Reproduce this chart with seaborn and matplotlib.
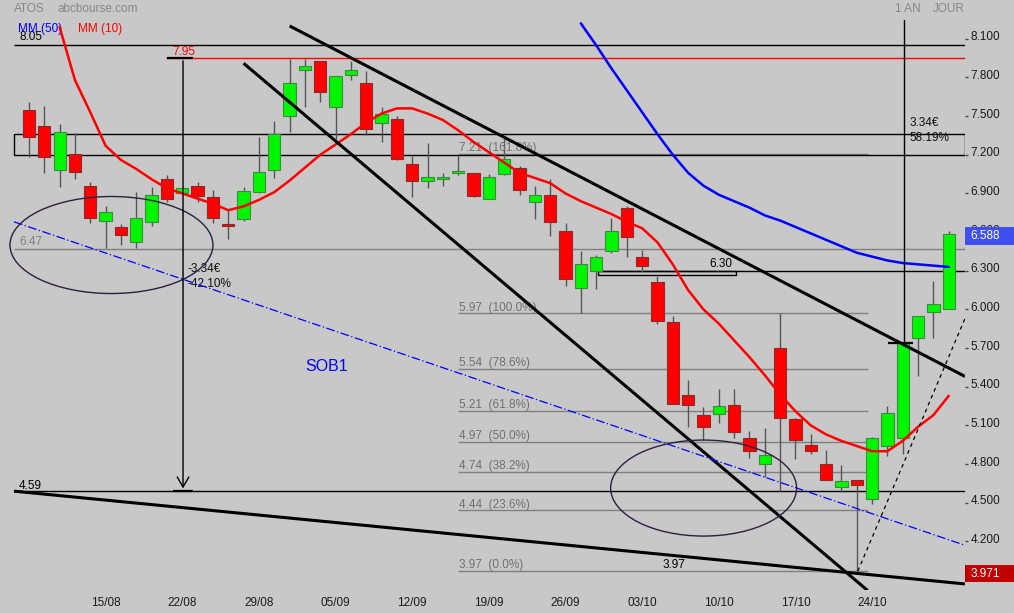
import numpy as np
import pandas as pd
import seaborn as sns
import matplotlib.pyplot as plt
import matplotlib.transforms as mtransforms
from matplotlib.patches import Ellipse, Rectangle

sns.set_theme(style='white', rc={'axes.facecolor': '#C8C8C8', 'figure.facecolor': '#C8C8C8'})
plt.rcParams['font.family'] = ['Liberation Sans', 'DejaVu Sans']

# daily candles, 08/08 -> 31/10 (index = trading day)
opens = [7.55, 7.42, 7.08, 7.21, 6.96, 6.69, 6.64, 6.52, 6.68, 7.01,
         6.90, 6.96, 6.87, 6.66, 6.70, 6.91, 7.08, 7.50, 7.86, 7.93,
         7.57, 7.82, 7.76, 7.45, 7.48, 7.13, 7.00, 7.01, 7.06, 7.06,
         6.86, 7.05, 7.10, 6.83, 6.89, 6.61, 6.17, 6.30, 6.45, 6.79,
         6.41, 6.21, 5.90, 5.34, 5.18, 5.19, 5.26, 5.00, 4.80, 5.70,
         5.15, 4.95, 4.80, 4.62, 4.68, 4.53, 4.94, 5.00, 5.78, 5.98, 6.00]
highs = [7.61, 7.58, 7.44, 7.37, 6.99, 6.80, 6.66, 6.91, 6.95, 7.04,
         6.94, 6.99, 6.93, 6.77, 6.95, 7.34, 7.46, 7.94, 7.94, 7.93,
         7.81, 7.93, 7.85, 7.57, 7.50, 7.19, 7.29, 7.06, 7.20, 7.06,
         7.05, 7.33, 7.11, 6.96, 7.01, 6.67, 6.45, 6.42, 6.71, 6.80,
         6.46, 6.26, 5.95, 5.45, 5.24, 5.38, 5.38, 5.06, 5.08, 5.97,
         5.16, 5.03, 4.91, 4.79, 4.68, 5.01, 5.25, 5.74, 5.95, 6.22, 6.61]
lows = [7.18, 7.06, 6.95, 7.01, 6.67, 6.48, 6.50, 6.48, 6.65, 6.83,
        6.90, 6.83, 6.67, 6.55, 6.69, 6.90, 7.02, 7.38, 7.57, 7.61,
        7.32, 7.78, 7.35, 7.30, 7.16, 6.87, 6.94, 6.96, 7.04, 6.87,
        6.86, 7.04, 6.89, 6.70, 6.57, 6.18, 5.97, 6.16, 6.44, 6.41,
        6.29, 5.89, 5.27, 5.09, 4.99, 5.12, 5.00, 4.85, 4.70, 4.59,
        4.84, 4.88, 4.68, 4.58, 3.971, 4.49, 4.86, 4.88, 5.48, 5.78, 6.00]
closes = [7.34, 7.18, 7.38, 7.07, 6.71, 6.76, 6.58, 6.71, 6.89, 6.86,
          6.94, 6.88, 6.71, 6.65, 6.92, 7.07, 7.36, 7.76, 7.89, 7.69,
          7.81, 7.86, 7.40, 7.52, 7.17, 7.00, 7.03, 7.03, 7.06, 6.88,
          7.03, 7.17, 6.93, 6.89, 6.68, 6.24, 6.35, 6.41, 6.61, 6.56,
          6.34, 5.91, 5.27, 5.26, 5.09, 5.25, 5.05, 4.90, 4.87, 5.16,
          4.99, 4.90, 4.68, 4.67, 4.64, 5.00, 5.20, 5.74, 5.95, 6.04, 6.588]

mm10 = [np.nan, np.nan, 8.19, 7.78, 7.53, 7.27, 7.16, 7.09, 7.01, 6.94,
        6.90, 6.86, 6.82, 6.77, 6.80, 6.85, 6.91, 7.00, 7.10, 7.20,
        7.28, 7.36, 7.45, 7.52, 7.56, 7.56, 7.52, 7.47, 7.39, 7.30,
        7.22, 7.14, 7.06, 7.02, 6.98, 6.90, 6.84, 6.79, 6.74, 6.68,
        6.63, 6.52, 6.35, 6.15, 6.00, 5.89, 5.76, 5.63, 5.49, 5.34,
        5.21, 5.10, 5.03, 4.98, 4.94, 4.90, 4.90, 4.98, 5.09, 5.18, 5.33]
mm50 = [np.nan] * 36 + [8.22, 8.05, 7.87, 7.70, 7.53, 7.36, 7.20, 7.06, 6.96, 6.89,
                        6.84, 6.79, 6.73, 6.69, 6.64, 6.59, 6.54, 6.49, 6.44, 6.41,
                        6.38, 6.36, 6.35, 6.34, 6.33]

week_pos = [5, 10, 15, 20, 25, 30, 35, 40, 45, 50, 55]
week_labels = ['15/08', '22/08', '29/08', '05/09', '12/09', '19/09',
               '26/09', '03/10', '10/10', '17/10', '24/10']

fib_levels = [7.21, 5.97, 5.54, 5.21, 4.97, 4.74, 4.44, 3.97]
fib_pcts = ['161.8%', '100.0%', '78.6%', '61.8%', '50.0%', '38.2%', '23.6%', '0.0%']

# drawn trend lines: (day, price) end points
chan_upper = [(17.0, 8.20), (61.06, 5.48)]
chan_lower = [(14.0, 7.91), (54.7, 3.82)]
support = [(-0.98, 4.59), (61.06, 3.87)]
sob1 = [(-0.98, 6.68), (61.06, 4.17)]
rebound = [(54.07, 3.97), (61.06, 5.93)]

days = np.arange(len(opens))
df = pd.DataFrame({'day': days, 'open': opens, 'high': highs, 'low': lows,
                   'close': closes, 'mm10': mm10, 'mm50': mm50})

fig = plt.figure(figsize=(10.14, 6.13), dpi=100)
ax = fig.add_axes([0, 23 / 613, 965 / 1014, 570 / 613])
x0, x1 = -1.89, 61.06
ax.set_xlim(x0, x1)
ax.set_ylim(3.823, 8.246)

# horizontal levels
ax.hlines(fib_levels, 28.0, 54.7, color='#808080', lw=1, zorder=1)
for lev, pct in zip(fib_levels, fib_pcts):
    ax.text(28.05, lev + 0.045, f'{lev:.2f}  ({pct})', color='#707070', fontsize=8.5, va='center')
ax.hlines(6.47, -0.98, x1, color='#808080', lw=1, zorder=1)
ax.text(-0.65, 6.523, '6.47', color='#808080', fontsize=8.5, va='center')
ax.hlines(8.05, -0.98, x1, color='black', lw=1, zorder=1)
ax.text(-0.65, 8.114, '8.05', color='black', fontsize=8.5, va='center')
ax.hlines(7.95, 8.94, x1, color='red', lw=1, zorder=1)
ax.text(9.33, 7.998, '7.95', color='red', fontsize=8.5, va='center')
ax.hlines(4.59, -0.98, x1, color='black', lw=1, zorder=1)
ax.text(-0.65, 4.631, '4.59', color='black', fontsize=8.5, va='center')
ax.hlines(6.30, 37.12, x1, color='black', lw=1, zorder=1)
ax.add_patch(Rectangle((37.12, 6.265), 9.0, 0.035, fc='none', ec='black', lw=1, zorder=1))
ax.text(44.36, 6.353, '6.30', color='black', fontsize=8.5, va='center')
ax.add_patch(Rectangle((-0.98, 7.20), x1 + 0.98, 0.16, fc='none', ec='black', lw=1, zorder=1))

# candles
ax.vlines(df['day'], df['low'], df['high'], color='#555555', lw=1, zorder=2)
body_lo = np.minimum(df['open'], df['close'])
body_h = np.maximum(np.abs(df['close'] - df['open']), 0.012)
up = df['close'] >= df['open']
ax.bar(df['day'], body_h, bottom=body_lo, width=0.8,
       color=np.where(up, '#00F500', '#FF0000'),
       edgecolor=np.where(up, '#3C8C3C', '#8C2A2A'), lw=0.8, zorder=3)

# moving averages
sns.lineplot(data=df.dropna(subset=['mm10']), x='day', y='mm10', color='#FF0000', lw=1.8, ax=ax, zorder=4)
sns.lineplot(data=df.dropna(subset=['mm50']), x='day', y='mm50', color='#0000FF', lw=1.8, ax=ax, zorder=4)

# trend lines
for seg in [chan_upper, chan_lower, support]:
    (xa, ya), (xb, yb) = seg
    ax.plot([xa, xb], [ya, yb], color='black', lw=2.2, zorder=4, solid_capstyle='butt')
(xa, ya), (xb, yb) = sob1
ax.plot([xa, xb], [ya, yb], color='#0000FF', lw=0.9, ls=(0, (7, 2, 1, 2)), zorder=4)
(xa, ya), (xb, yb) = rebound
ax.plot([xa, xb], [ya, yb], color='black', lw=0.9, ls=(0, (3, 3)), zorder=4)

# ellipses
ax.add_patch(Ellipse((5.38, 6.50), 13.24, 0.753, fc='none', ec='#2B2040', lw=1, zorder=4))
ax.add_patch(Ellipse((44.01, 4.614), 12.13, 0.745, fc='none', ec='#2B2040', lw=1, zorder=4))

# measures
ax.annotate('', xy=(10.05, 4.59), xytext=(10.05, 7.95),
            arrowprops=dict(arrowstyle='->,head_length=0.6,head_width=0.35', color='black', lw=1), zorder=5)
ax.hlines(7.95, 9.0, 10.7, color='black', lw=1.6, zorder=5)
ax.hlines(4.59, 9.39, 10.7, color='black', lw=1.6, zorder=5)
ax.text(10.37, 6.314, '-3.34€', color='#111111', fontsize=8.5, va='center')
ax.text(10.37, 6.197, '-42.10%', color='#111111', fontsize=8.5, va='center')
ax.vlines(57.08, 5.74, 9.08, color='black', lw=1, zorder=5)
ax.hlines(5.74, 56.03, 57.67, color='black', lw=1.6, zorder=5)
ax.text(57.47, 7.447, '3.34€', color='#111111', fontsize=8.5, va='center')
ax.text(57.47, 7.331, '58.19%', color='#111111', fontsize=8.5, va='center')

ax.text(18.0, 5.561, 'SOB1', color='#0000FF', fontsize=11.5, va='center')
ax.text(41.36, 4.017, '3.97', color='black', fontsize=8.5, va='center')
ax.text(-0.72, 8.176, 'MM (50)', color='#0000FF', fontsize=8.5, va='center')
ax.text(3.2, 8.176, 'MM (10)', color='#FF0000', fontsize=8.5, va='center')

# axes
for s in ax.spines.values():
    s.set_visible(False)
ax.set_xticks(week_pos, week_labels)
yt = np.round(np.arange(3.9, 8.11, 0.3), 1)
ax.set_yticks(yt, [f'{v:.3f}' for v in yt])
ax.yaxis.tick_right()
ax.tick_params(axis='y', right=True, length=2, width=1, color='#444444', pad=2,
               labelsize=8.5, labelcolor='#1a1a1a')
ax.tick_params(axis='x', length=0, pad=5, labelsize=8.5, labelcolor='#1a1a1a')
ax.set_xlabel('')
ax.set_ylabel('')
shift = mtransforms.ScaledTranslation(0, 0.03, fig.dpi_scale_trans)
for lab in ax.get_yticklabels():
    lab.set_transform(lab.get_transform() + shift)

# last / low price boxes
trans = mtransforms.blended_transform_factory(ax.transAxes, ax.transData)
for val, txt, fc in [(6.588, '6.588', '#3F4FF2'), (3.971, '3.971', '#C00000')]:
    ax.add_patch(Rectangle((1.0, val - 0.087), 0.06, 0.135, transform=trans,
                           fc=fc, ec='none', clip_on=False, zorder=6))
    ax.text(1.006, val - 0.02, txt, transform=trans, color='white', fontsize=8.5,
            va='center', ha='left', zorder=7, clip_on=False)

fig.text(14 / 1014, 1 - 9 / 613, 'ATOS', color='#888888', fontsize=8.5, va='center')
fig.text(57 / 1014, 1 - 9 / 613, 'abcbourse.com', color='#888888', fontsize=8.5, va='center')
fig.text(895 / 1014, 1 - 9 / 613, '1 AN', color='#888888', fontsize=8.5, va='center')
fig.text(933 / 1014, 1 - 9 / 613, 'JOUR', color='#888888', fontsize=8.5, va='center')

fig.savefig('out.png', dpi=100, facecolor='#C8C8C8')
